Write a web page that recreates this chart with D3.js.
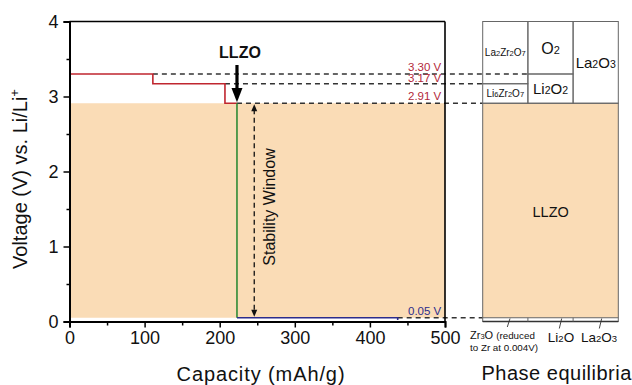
<!DOCTYPE html>
<html>
<head>
<meta charset="utf-8">
<script src="https://cdn.jsdelivr.net/npm/d3@7/dist/d3.min.js"></script>
<style>
  html, body { margin: 0; padding: 0; background: #fff; }
  svg { display: block; font-family: "Liberation Sans", Arial, sans-serif; }
</style>
</head>
<body>
<svg id="chart" width="632" height="385"></svg>
<script>
// Voltage profile of LLZO lithiation / delithiation (capacity vs. voltage)
const plateauVoltages = [3.30, 3.17, 2.91];       // oxidation plateaus (V)
const plateauEnds     = [111, 207, 223];          // capacity where each plateau ends (mAh/g)
const plateauLabels   = ["3.30 V", "3.17 V", "2.91 V"];
const reductionVoltage = 0.05;                    // reduction plateau (V)
const reductionEnd     = 437;                     // capacity at end of reduction (mAh/g)
const reductionLabel   = "0.05 V";
const xTicks = [0, 100, 200, 300, 400, 500];
const yTicks = [0, 1, 2, 3, 4];

// Phase-equilibria columns: decomposition products above / below the window
const upperPhases = [
  { col: 0, top: 4.0,  bottom: 3.17, parts: [["La", 0], ["2", 1], ["Zr", 0], ["2", 1], ["O", 0], ["7", 1]], size: 10, sub: 7.5 },
  { col: 0, top: 3.17, bottom: 2.91, parts: [["Li", 0], ["6", 1], ["Zr", 0], ["2", 1], ["O", 0], ["7", 1]], size: 10, sub: 7.5 },
  { col: 1, top: 4.0,  bottom: 3.30, parts: [["O", 0], ["2", 1]], size: 16, sub: 11 },
  { col: 1, top: 3.30, bottom: 2.91, parts: [["Li", 0], ["2", 1], ["O", 0], ["2", 1]], size: 15, sub: 10.5 },
  { col: 2, top: 4.0,  bottom: 2.91, parts: [["La", 0], ["2", 1], ["O", 0], ["3", 1]], size: 15, sub: 10.5 }
];
const lowerPhases = [
  ["Li", "2", "O"],
  ["La", "2", "O", "3"]
];

const svg = d3.select("#chart");
const x = d3.scaleLinear().domain([0, 500]).range([69.5, 445]);
const y = d3.scaleLinear().domain([0, 4]).range([321.5, 21.5]);

const orange = "#fadcb6";
const red = "#c0262f";
const green = "#2f8a36";
const blue = "#2c2c8c";
const dash = "#333";

// stability window fill
svg.append("rect")
  .attr("x", x(0)).attr("y", y(2.91))
  .attr("width", x(500) - x(0)).attr("height", y(reductionVoltage) - y(2.91))
  .attr("fill", orange);

// phase-equilibria panel geometry
const px0 = 482.7, px1 = 618.3;
const colW = (px1 - px0) / 3;
const colX = i => px0 + i * colW;

svg.append("rect")
  .attr("x", px0).attr("y", y(2.91))
  .attr("width", px1 - px0).attr("height", y(reductionVoltage) - y(2.91))
  .attr("fill", orange);

// dashed guide lines
const guides = [
  { v: plateauVoltages[0], from: x(plateauEnds[0]), to: colX(1) },
  { v: plateauVoltages[1], from: x(plateauEnds[1]), to: px0 },
  { v: plateauVoltages[2], from: x(plateauEnds[2]), to: px0 },
  { v: reductionVoltage, from: x(reductionEnd), to: px0 }
];
svg.selectAll("line.guide").data(guides).join("line")
  .attr("class", "guide")
  .attr("x1", d => d.from).attr("x2", d => d.to)
  .attr("y1", d => y(d.v)).attr("y2", d => y(d.v))
  .attr("stroke", dash).attr("stroke-width", 1.3).attr("stroke-dasharray", "5,4");

// oxidation step profile (red)
const redPts = [[0, plateauVoltages[0]]];
plateauVoltages.forEach((v, i) => {
  if (i > 0) redPts.push([plateauEnds[i - 1], v]);
  redPts.push([plateauEnds[i], v]);
});
const line = d3.line().x(d => x(d[0])).y(d => y(d[1]));
svg.append("path").datum(redPts)
  .attr("d", line).attr("fill", "none").attr("stroke", red).attr("stroke-width", 1.6);

// vertical drop (green)
svg.append("path")
  .datum([[plateauEnds[2], plateauVoltages[2]], [plateauEnds[2], reductionVoltage]])
  .attr("d", line).attr("fill", "none").attr("stroke", green).attr("stroke-width", 1.6);

// reduction plateau (blue)
svg.append("path")
  .datum([[plateauEnds[2], reductionVoltage], [reductionEnd, reductionVoltage], [reductionEnd, 0.02]])
  .attr("d", line).attr("fill", "none").attr("stroke", blue).attr("stroke-width", 1.6);

// voltage labels
const labelShift = [3.5, 2, 3];
svg.selectAll("text.vlab").data(plateauVoltages).join("text")
  .attr("class", "vlab")
  .attr("x", x(495)).attr("y", (d, i) => y(d) - labelShift[i])
  .attr("text-anchor", "end").attr("font-size", 11.5).attr("fill", "#b3283a")
  .text((d, i) => plateauLabels[i]);
svg.append("text")
  .attr("x", x(495)).attr("y", y(reductionVoltage) - 3)
  .attr("text-anchor", "end").attr("font-size", 11.5).attr("fill", blue)
  .text(reductionLabel);

// axes frame
const axG = svg.append("g");
axG.append("line").attr("x1", x(0)).attr("x2", x(500)).attr("y1", y(4)).attr("y2", y(4))
  .attr("stroke", "#000").attr("stroke-width", 1.6);
axG.append("line").attr("x1", x(500)).attr("x2", x(500)).attr("y1", y(4)).attr("y2", y(0))
  .attr("stroke", "#000").attr("stroke-width", 1.6);

const yAxis = svg.append("g").attr("transform", `translate(${x(0)},0)`)
  .call(d3.axisLeft(y).tickValues(yTicks).tickFormat(d3.format("d")).tickSize(6).tickPadding(5));
const yMinor = svg.append("g").attr("transform", `translate(${x(0)},0)`)
  .call(d3.axisLeft(y).tickValues([0.5, 1.5, 2.5, 3.5]).tickFormat("").tickSize(3));
const xAxis = svg.append("g").attr("transform", `translate(0,${y(0)})`)
  .call(d3.axisBottom(x).tickValues(xTicks).tickSize(6).tickPadding(4));
const xMinor = svg.append("g").attr("transform", `translate(0,${y(0)})`)
  .call(d3.axisBottom(x).tickValues([50, 150, 250, 350, 450]).tickFormat("").tickSize(4));

[yAxis, yMinor, xAxis, xMinor].forEach(g => {
  g.select(".domain").attr("stroke", "#000").attr("stroke-width", 2);
  g.selectAll(".tick line").attr("stroke", "#000").attr("stroke-width", 1.5);
  g.selectAll(".tick text").attr("font-size", 18).attr("fill", "#111")
    .attr("font-family", "'Liberation Sans', Arial, sans-serif");
});
yMinor.select(".domain").remove();
xMinor.select(".domain").remove();

// axis titles
svg.append("text")
  .attr("x", 261).attr("y", 381)
  .attr("text-anchor", "middle").attr("font-size", 20).attr("fill", "#111")
  .attr("letter-spacing", 0.9)
  .text("Capacity (mAh/g)");

const yt = svg.append("text")
  .attr("transform", "translate(27,179) rotate(-90)")
  .attr("text-anchor", "middle").attr("font-size", 20).attr("fill", "#111");
yt.append("tspan").text("Voltage (V) vs. Li/Li");
yt.append("tspan").attr("dy", -8).attr("font-size", 13).text("+");

// LLZO marker arrow
const ax = x(plateauEnds[2]);
svg.append("text")
  .attr("x", ax + 3).attr("y", 58)
  .attr("text-anchor", "middle").attr("font-size", 16).attr("font-weight", "bold").attr("fill", "#111")
  .text("LLZO");
svg.append("line").attr("x1", ax).attr("x2", ax).attr("y1", 65).attr("y2", 90)
  .attr("stroke", "#000").attr("stroke-width", 3.2);
svg.append("path")
  .attr("d", `M${ax - 5.5},88 L${ax + 5.5},88 L${ax},${y(plateauVoltages[2]) - 1} Z`)
  .attr("fill", "#000");

// stability window double arrow
const sx = x(246);
svg.append("line")
  .attr("x1", sx).attr("x2", sx)
  .attr("y1", y(plateauVoltages[2]) + 6).attr("y2", y(reductionVoltage) - 6)
  .attr("stroke", "#111").attr("stroke-width", 1.3).attr("stroke-dasharray", "5,3.5");
svg.append("path")
  .attr("d", `M${sx - 3},${y(plateauVoltages[2]) + 8} L${sx + 3},${y(plateauVoltages[2]) + 8} L${sx},${y(plateauVoltages[2]) + 1} Z`)
  .attr("fill", "#111");
svg.append("path")
  .attr("d", `M${sx - 3},${y(reductionVoltage) - 8} L${sx + 3},${y(reductionVoltage) - 8} L${sx},${y(reductionVoltage) - 1} Z`)
  .attr("fill", "#111");
svg.append("text")
  .attr("transform", `translate(${sx + 21},207) rotate(-90)`)
  .attr("text-anchor", "middle").attr("font-size", 16).attr("fill", "#111")
  .text("Stability Window");

// phase equilibria panel
const panel = svg.append("g");
const pStroke = "#666";
// upper boxes
upperPhases.forEach(p => {
  panel.append("rect")
    .attr("x", colX(p.col)).attr("y", y(p.top))
    .attr("width", colW).attr("height", y(p.bottom) - y(p.top))
    .attr("fill", "none").attr("stroke", pStroke).attr("stroke-width", 1);
  const t = panel.append("text")
    .attr("x", colX(p.col) + colW / 2)
    .attr("y", (y(p.top) + y(p.bottom)) / 2 + p.size * 0.36)
    .attr("text-anchor", "middle").attr("font-size", p.size).attr("fill", "#111");
  p.parts.forEach(([s, isSub]) => {
    t.append("tspan").attr("font-size", isSub ? p.sub : p.size).text(s);
  });
});
// window box and lower strip
panel.append("rect")
  .attr("x", px0).attr("y", y(2.91))
  .attr("width", px1 - px0).attr("height", y(0) - y(2.91))
  .attr("fill", "none").attr("stroke", pStroke).attr("stroke-width", 1);
panel.append("line").attr("x1", px0).attr("x2", px1)
  .attr("y1", y(reductionVoltage)).attr("y2", y(reductionVoltage))
  .attr("stroke", pStroke).attr("stroke-width", 1);
panel.append("line").attr("x1", px0).attr("x2", px1)
  .attr("y1", y(0)).attr("y2", y(0))
  .attr("stroke", "#333").attr("stroke-width", 1.6);
[1, 2].forEach(i => {
  panel.append("line").attr("x1", colX(i)).attr("x2", colX(i))
    .attr("y1", y(reductionVoltage)).attr("y2", y(0))
    .attr("stroke", pStroke).attr("stroke-width", 1);
});
panel.append("text")
  .attr("x", px0 + (px1 - px0) / 2 - 18).attr("y", 216.7)
  .attr("font-size", 14.5).attr("fill", "#111").text("LLZO");

// lower products with leader lines
const leaders = [[507.3, 327, 510, 318.5], [559.3, 328.5, 561.7, 318.5], [599.3, 328.5, 601.7, 318.5]];
panel.selectAll("line.leader").data(leaders).join("line")
  .attr("class", "leader")
  .attr("x1", d => d[0]).attr("y1", d => d[1]).attr("x2", d => d[2]).attr("y2", d => d[3])
  .attr("stroke", "#333").attr("stroke-width", 0.9);

const z1 = panel.append("text").attr("x", 470).attr("y", 339.3).attr("font-size", 10).attr("fill", "#111");
z1.append("tspan").attr("font-size", 11).text("Zr");
z1.append("tspan").attr("font-size", 7.5).text("3");
z1.append("tspan").attr("font-size", 11).text("O ");
z1.append("tspan").attr("font-size", 9.8).text("(reduced");
panel.append("text").attr("x", 470).attr("y", 350.7).attr("font-size", 9.8).attr("fill", "#111")
  .text("to Zr at 0.004V)");

const lowX = [561, 599];
lowerPhases.forEach((parts, i) => {
  const t = panel.append("text").attr("x", lowX[i]).attr("y", 341.5)
    .attr("text-anchor", "middle").attr("font-size", 13.5).attr("fill", "#111");
  parts.forEach(s => {
    t.append("tspan").attr("font-size", /^\d$/.test(s) ? 9.5 : 13.5).text(s);
  });
});

svg.append("text")
  .attr("x", 481.5).attr("y", 379.5)
  .attr("text-anchor", "start").attr("font-size", 20).attr("fill", "#111")
  .attr("letter-spacing", 0.5)
  .text("Phase equilibria");
</script>
</body>
</html>
